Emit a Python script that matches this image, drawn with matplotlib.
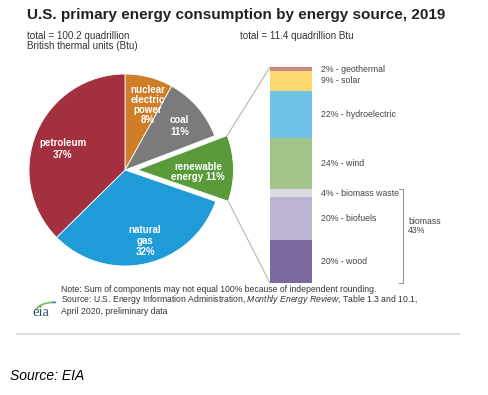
import matplotlib
matplotlib.use("Agg")
import matplotlib.pyplot as plt
from matplotlib.patches import ConnectionPatch, Arc
import numpy as np

plt.rcParams['font.family'] = ['Liberation Sans', 'DejaVu Sans']
plt.rcParams['mathtext.fontset'] = 'custom'
plt.rcParams['mathtext.rm'] = 'Liberation Sans'
plt.rcParams['mathtext.it'] = 'Liberation Sans:italic'

# ---- data ----
pie_labels = ["nuclear\nelectric\npower\n8%", "coal\n11%", "renewable\nenergy 11%", "natural\ngas\n32%", "petroleum\n37%"]
pie_values = [8, 11, 11, 32, 37]
pie_colors = ["#d07d27", "#7b7b7b", "#5a9a3a", "#1f9bd7", "#a3303f"]

bar_names = ["wood", "biofuels", "biomass waste", "wind", "hydroelectric", "solar", "geothermal"]
bar_values = [20, 20, 4, 24, 22, 9, 2]
bar_colors = ["#7b6a9f", "#bdb5d3", "#dcdae3", "#a3c48b", "#6fc3e7", "#fbd96c", "#c98a86"]
biomass_share = 43

W, H = 489, 395
fig = plt.figure(figsize=(W / 100, H / 100), dpi=100)
fig.patch.set_facecolor("white")

def fx(px):
    return px / W

def fy(py):
    return 1 - py / H

# ---- pie ----
cx, cy, rad = 125, 170, 96
half = 1.25 * rad
ax = fig.add_axes([fx(cx - half), fy(cy + half), 2 * half / W, 2 * half / H])
explode = [0, 0, 0.13, 0, 0]
wedges, _ = ax.pie(pie_values, colors=pie_colors, startangle=90, counterclock=False,
                   explode=explode, wedgeprops=dict(edgecolor="white", linewidth=0.6))
ax.set_xlim(-1.25, 1.25)
ax.set_ylim(-1.25, 1.25)

label_pos = [(0.235, 0.68), (0.57, 0.46), (0.76, -0.02), (0.21, -0.74), (-0.65, 0.22)]
label_ls = [1.0, 1.25, 0.95, 1.1, 1.2]
for lab, (x, y), ls in zip(pie_labels, label_pos, label_ls):
    ax.text(x, y, lab, ha="center", va="center", color="white", fontsize=7.0,
            fontweight="bold", linespacing=ls)

# ---- stacked bar ----
bx0, bx1, by0, by1 = 270, 312, 67, 283
bax = fig.add_axes([fx(bx0), fy(by1), (bx1 - bx0) / W, (by1 - by0) / H])
total = sum(bar_values)
bottom = 0
for name, v, c in zip(bar_names, bar_values, bar_colors):
    bax.bar(0, v, bottom=bottom, width=1.0, color=c, edgecolor="none")
    bax.text(0.71, bottom + v / 2, f"{v}% - {name}", ha="left", va="center",
             fontsize=6.3, color="#444444", clip_on=False)
    bottom += v
bax.set_xlim(-0.5, 0.5)
bax.set_ylim(0, total)
bax.axis("off")

# connector lines
w = wedges[2]
t1, t2 = np.deg2rad(w.theta1), np.deg2rad(w.theta2)
c0 = np.array(w.center)
top_pt = c0 + w.r * np.array([np.cos(max(t1, t2)), np.sin(max(t1, t2))])
bot_pt = c0 + w.r * np.array([np.cos(min(t1, t2)), np.sin(min(t1, t2))])
for p, q in [(top_pt, (-0.5, total)), (bot_pt, (-0.5, 0))]:
    con = ConnectionPatch(xyA=p, coordsA=ax.transData, xyB=q, coordsB=bax.transData,
                          color="#b5b5b5", lw=0.8)
    fig.add_artist(con)

# biomass bracket
bx = 403
fig.add_artist(plt.Line2D([fx(bx - 4), fx(bx), fx(bx), fx(bx - 4)],
                          [fy(189), fy(189), fy(283), fy(283)], color="#999999", lw=0.8))
fig.text(fx(408), fy(226), f"biomass\n{biomass_share}%", ha="left", va="center", fontsize=6.3,
         color="#444444", linespacing=1.0)

# ---- titles ----
fig.text(fx(27), fy(15), "U.S. primary energy consumption by energy source, 2019",
         ha="left", va="center", fontsize=11, fontweight="bold", color="#222222")
fig.text(fx(27), fy(41), "total = 100.2 quadrillion\nBritish thermal units (Btu)",
         ha="left", va="center", fontsize=7.1, color="#333333", linespacing=1.0)
fig.text(fx(240), fy(36), "total = 11.4 quadrillion Btu",
         ha="left", va="center", fontsize=7.1, color="#333333")

# ---- notes ----
note_fs = 6.2
fig.text(fx(61), fy(289), "Note: Sum of components may not equal 100% because of independent rounding.",
         ha="left", va="center", fontsize=note_fs, color="#333333")
fig.text(fx(61), fy(300), "Source: U.S. Energy Information Administration, $\\it{Monthly\\ Energy\\ Review}$, Table 1.3 and 10.1,",
         ha="left", va="center", fontsize=note_fs, color="#333333")
fig.text(fx(61), fy(311), "April 2020, preliminary data",
         ha="left", va="center", fontsize=note_fs, color="#333333")

# eia logo
fig.text(fx(32), fy(312), "eia", ha="left", va="center", fontsize=10.5,
         family="Liberation Serif", color="#2d4d6a")
lax = fig.add_axes([fx(32), fy(312), 24 / W, 12 / H])
lax.set_xlim(0, 1)
lax.set_ylim(0, 1)
lax.axis("off")
lax.add_patch(Arc((0.9, 0.0), 1.5, 1.6, theta1=95, theta2=165, color="#7fbf5a", lw=1.3))
lax.add_patch(Arc((0.9, 0.0), 1.5, 1.6, theta1=60, theta2=95, color="#3a8fc0", lw=1.3))

# rule
fig.add_artist(plt.Line2D([fx(17), fx(459)], [fy(334), fy(334)], color="#dddddd", lw=1.5))

fig.text(fx(10), fy(376), "Source: EIA", ha="left", va="center", fontsize=10,
         style="italic", color="black")

fig.savefig("out.png", dpi=100, facecolor="white")
